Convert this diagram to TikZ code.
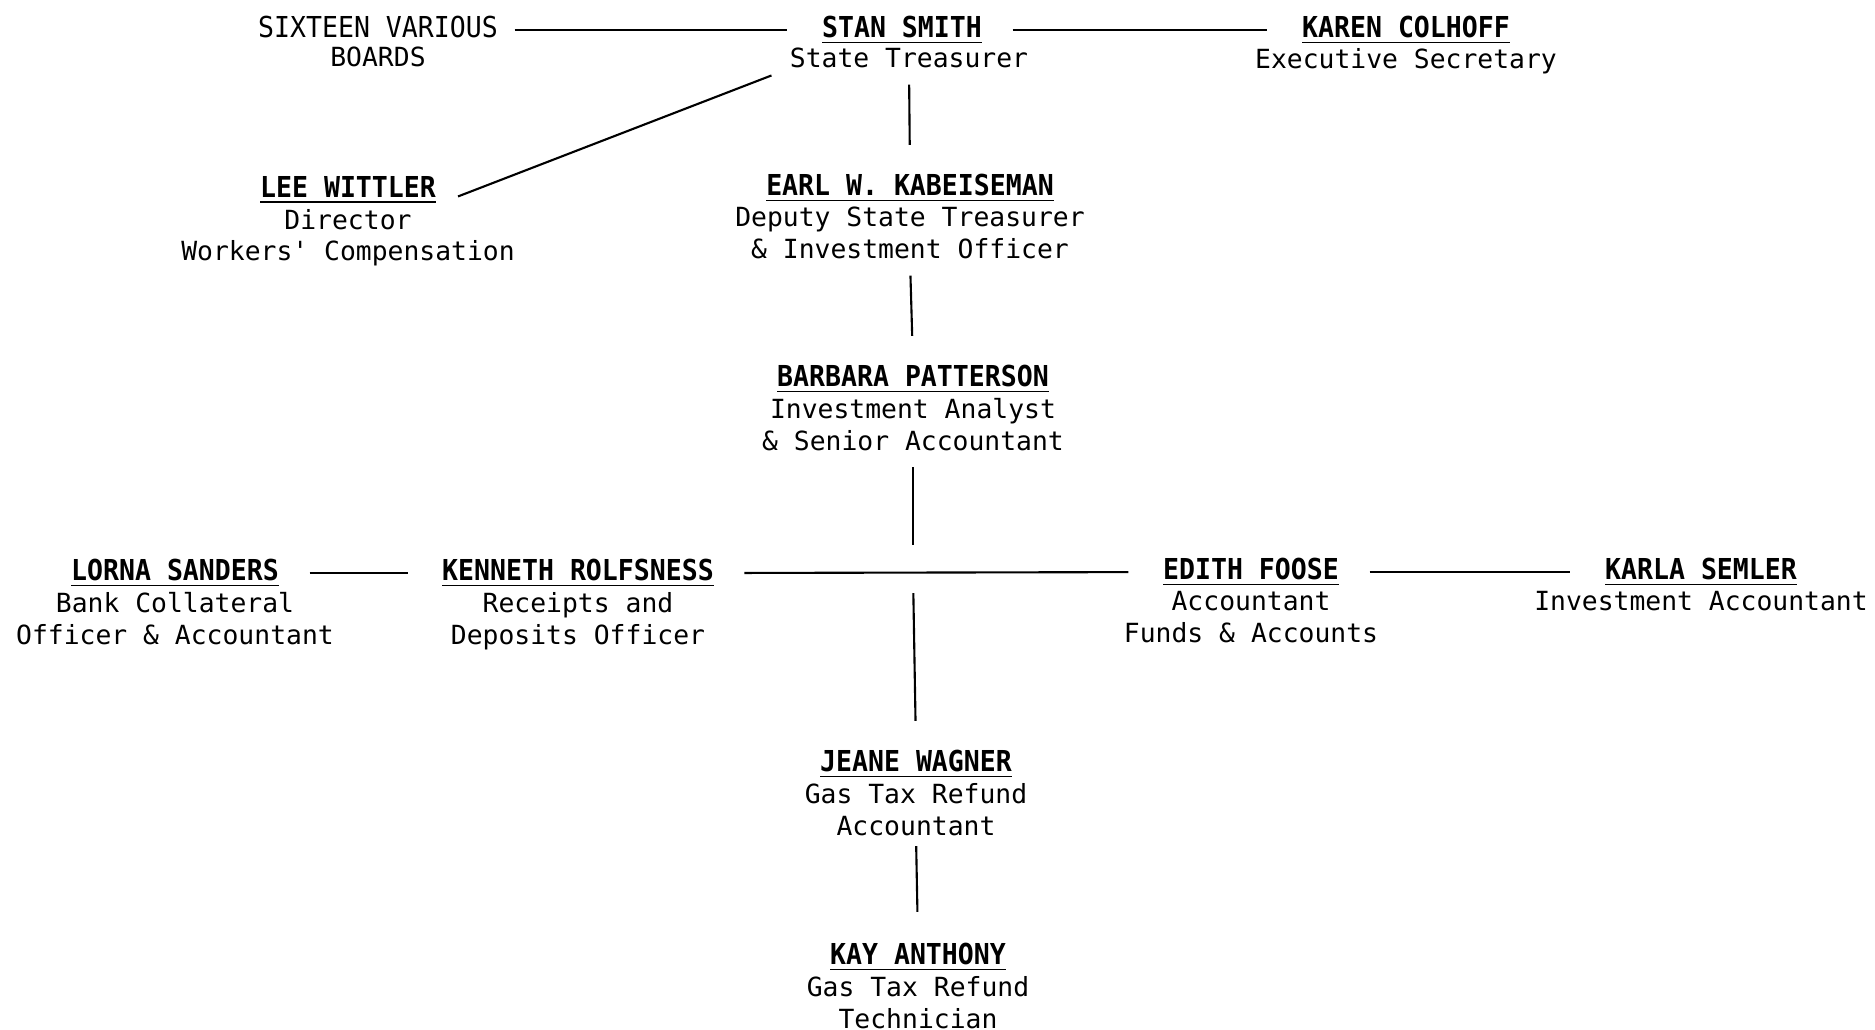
\documentclass[tikz,border=0pt]{standalone}
\usepackage{fontspec}
\setmonofont{DejaVu Sans Mono}
\newfontfamily\namefont[FakeStretch=0.92]{DejaVu Sans Mono}
\usepackage{tikz}
\usetikzlibrary{positioning}
\tikzset{
	who/.style={inner sep=0pt,anchor=base,font=\fontsize{8.2}{8.8}\selectfont\namefont\bfseries},
	head/.style={inner sep=0pt,anchor=base,font=\fontsize{8.2}{8.8}\selectfont\namefont},
	job/.style={inner sep=0pt,align=center,font=\fontsize{7.5}{9}\selectfont\ttfamily},
	link/.style={line width=0.6pt,shorten <=3mm,shorten >=3.4mm},
	drop/.style={line width=0.6pt,shorten <=1.6mm,shorten >=2.8mm}
}
\begin{document}
\begin{tikzpicture}[x=0.01cm,y=-0.01cm]
		\path[use as bounding box,fill=white] (0,0) rectangle (1875,1030);
		\node[head] (boards) at (378,37) {SIXTEEN VARIOUS};
		\node[job,below=2.3pt of boards] (boardsjob) {BOARDS};
		\node[who] (smith) at (902,37) {\underline{STAN SMITH}};
		\node[job,below=0.6pt of smith,xshift=0.7mm] (smithjob) {State Treasurer};
		\node[who] (colhoff) at (1406,37) {\underline{KAREN COLHOFF}};
		\node[job,below=0.6pt of colhoff] (colhoffjob) {Executive Secretary};
		\node[who] (wittler) at (348,197) {\underline{LEE WITTLER}};
		\node[job,below=1pt of wittler] (wittlerjob) {Director\\Workers' Compensation};
		\node[who] (kabeiseman) at (910,195) {\underline{EARL W. KABEISEMAN}};
		\node[job,below=1pt of kabeiseman] (kabeisemanjob) {Deputy State Treasurer\\\& Investment Officer};
		\node[who] (patterson) at (913,386) {\underline{BARBARA PATTERSON}};
		\node[job,below=1pt of patterson] (pattersonjob) {Investment Analyst\\\& Senior Accountant};
		\node[who] (sanders) at (175,580) {\underline{LORNA SANDERS}};
		\node[job,below=1pt of sanders] (sandersjob) {Bank Collateral\\Officer \& Accountant};
		\node[who] (rolfsness) at (578,580) {\underline{KENNETH ROLFSNESS}};
		\node[job,below=1pt of rolfsness] (rolfsnessjob) {Receipts and\\Deposits Officer};
		\node[who] (foose) at (1251,579) {\underline{EDITH FOOSE}};
		\node[job,below=1pt of foose] (foosejob) {Accountant\\Funds \& Accounts};
		\node[who] (semler) at (1701,579) {\underline{KARLA SEMLER}};
		\node[job,below=1pt of semler] (semlerjob) {Investment Accountant};
		\node[who] (wagner) at (916,771) {\underline{JEANE WAGNER}};
		\node[job,below=1pt of wagner] (wagnerjob) {Gas Tax Refund\\Accountant};
		\node[who] (anthony) at (918,964) {\underline{KAY ANTHONY}};
		\node[job,below=1pt of anthony] (anthonyjob) {Gas Tax Refund\\Technician};
		\coordinate (hub) at (pattersonjob.south |- rolfsness.east);
		\draw[link,shorten <=1.6mm] (boards.east |- smith.west) -- (smith.west);
		\draw[link] (smith.east) -- (colhoff.west);
		\draw[line width=0.6pt,shorten <=1.9mm,shorten >=2.3mm] (smithjob.south west) -- (wittler.south east);
		\draw[drop] (smithjob.south) -- (kabeiseman.north);
		\draw[drop] (kabeisemanjob.south) -- (patterson.north);
		\draw[drop] (pattersonjob.south) -- (hub);
		\draw[drop,shorten <=2mm] (hub) -- (wagner.north);
		\draw[drop,shorten <=1mm,shorten >=3mm] (wagnerjob.south) -- (anthony.north);
		\draw[link] (sanders.east) -- (rolfsness.west);
		\draw[link] (rolfsness.east) -- (foose.west);
		\draw[link] (foose.east) -- (semler.west);
	\end{tikzpicture}
\end{document}
